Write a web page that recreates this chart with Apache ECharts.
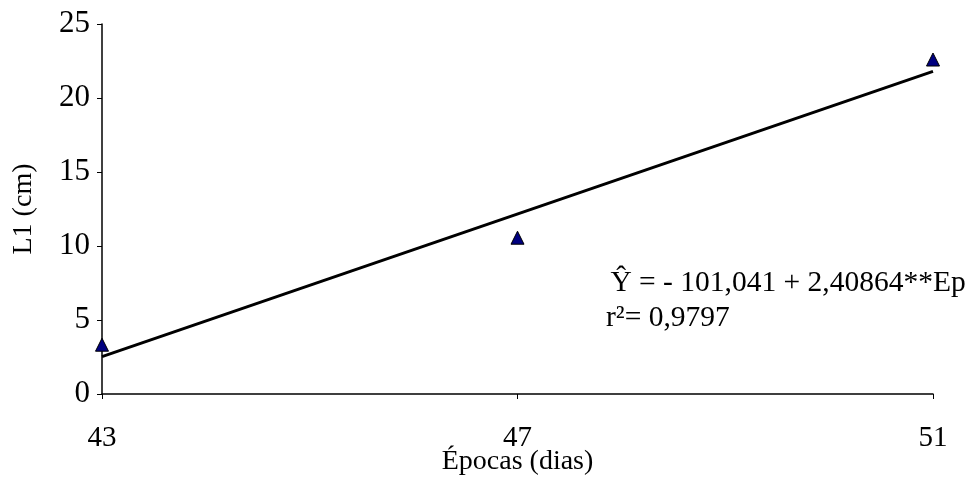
<!DOCTYPE html>
<html>
<head>
<meta charset="utf-8">
<script src="https://cdn.jsdelivr.net/npm/echarts@6/dist/echarts.min.js"></script>
<style>html,body{margin:0;padding:0;background:#fff}#c{width:971px;height:479px}</style>
</head>
<body>
<div id="c"></div>
<script>
const categories = ['43', '47', '51'];
const observed = [3.33, 10.56, 22.60];
const trend = [2.53, null, 21.80];
const yTicks = [0, 5, 10, 15, 20, 25];
const xName = 'Épocas (dias)';
const yName = 'L1 (cm)';
const eqLine1 = ' Ŷ = - 101,041 + 2,40864**Ep';
const eqLine2 = 'r²= 0,9797';

const font = 'Liberation Serif, Times New Roman, serif';
const chart = echarts.init(document.getElementById('c'), null, {renderer: 'canvas'});
chart.setOption({
  animation: false,
  backgroundColor: '#fff',
  grid: {left: 102, right: 38, top: 24, bottom: 85, containLabel: false, outerBoundsMode: 'none'},
  xAxis: {
    type: 'category',
    data: categories,
    boundaryGap: false,
    name: xName,
    nameLocation: 'middle',
    nameGap: 54,
    nameMoveOverlap: false,
    nameTextStyle: {fontFamily: font, fontSize: 28, color: '#000'},
    axisLine: {lineStyle: {color: '#000', width: 1.5}},
    axisTick: {show: true, length: 5, lineStyle: {color: '#000'}, alignWithLabel: true},
    axisLabel: {fontFamily: font, fontSize: 29, color: '#000', margin: 30},
    splitLine: {show: false}
  },
  yAxis: {
    type: 'value',
    min: yTicks[0],
    max: yTicks[yTicks.length - 1],
    interval: 5,
    name: yName,
    nameLocation: 'middle',
    nameGap: 64,
    nameMoveOverlap: false,
    nameTextStyle: {fontFamily: font, fontSize: 28, color: '#000'},
    axisLine: {show: true, lineStyle: {color: '#000', width: 1.5}},
    axisTick: {show: true, length: 5, lineStyle: {color: '#000'}},
    axisLabel: {fontFamily: font, fontSize: 31, color: '#000', margin: 12},
    splitLine: {show: false}
  },
  series: [
    {
      type: 'line',
      data: trend,
      connectNulls: true,
      symbol: 'none',
      lineStyle: {color: '#000', width: 3},
      z: 2
    },
    {
      type: 'scatter',
      data: observed,
      symbol: 'triangle',
      symbolSize: 13,
      itemStyle: {color: '#000080', borderColor: '#000', borderWidth: 1, opacity: 1},
      z: 3
    }
  ],
  graphic: [
    {type: 'text', left: 603, top: 268, style: {text: eqLine1, font: '29.5px ' + font, fill: '#000'}},
    {type: 'text', left: 606, top: 303, style: {text: eqLine2, font: '29.5px ' + font, fill: '#000'}}
  ]
});
</script>
</body>
</html>
